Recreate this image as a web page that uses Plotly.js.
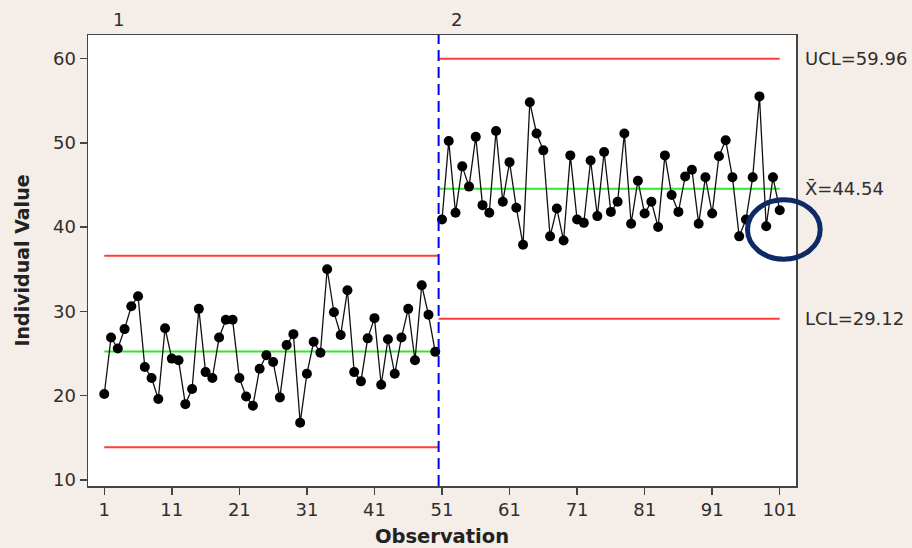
<!DOCTYPE html>
<html>
<head>
<meta charset="utf-8">
<script src="https://cdn.plot.ly/plotly-3.0.1.min.js"></script>
<style>html,body{margin:0;padding:0;background:#F5EDE7;}</style>
</head>
<body>
<div id="chart" style="width:912px;height:548px;"></div>
<script>
// Stage 1: observations 1-50
const stage1Obs = Array.from({length: 50}, (_, i) => i + 1);
const stage1Values = [
  20.2, 26.9, 25.6, 27.9, 30.6, 31.8, 23.4, 22.1, 19.6, 28.0,
  24.4, 24.2, 19.0, 20.8, 30.3, 22.8, 22.1, 26.9, 29.0, 29.0,
  22.1, 19.9, 18.8, 23.2, 24.8, 24.0, 19.8, 26.0, 27.3, 16.8,
  22.6, 26.4, 25.1, 35.0, 29.9, 27.2, 32.5, 22.8, 21.7, 26.8,
  29.2, 21.3, 26.7, 22.6, 26.9, 30.3, 24.2, 33.1, 29.6, 25.2
];
// Stage 2: observations 51-101
const stage2Obs = Array.from({length: 51}, (_, i) => i + 51);
const stage2Values = [
  40.9, 50.2, 41.7, 47.2, 44.8, 50.7, 42.6, 41.7, 51.4, 43.0,
  47.7, 42.3, 37.9, 54.8, 51.1, 49.1, 38.9, 42.2, 38.4, 48.5,
  40.9, 40.5, 47.9, 41.3, 48.9, 41.8, 43.0, 51.1, 40.4, 45.5,
  41.6, 43.0, 40.0, 48.5, 43.8, 41.8, 46.0, 46.8, 40.4, 45.9,
  41.6, 48.4, 50.3, 45.9, 38.9, 40.9, 45.9, 55.5, 40.1, 45.9,
  42.0
];
// Control limits per stage
const stageBoundsX1 = [1, 50.5];
const stageBoundsX2 = [50.5, 101];
const stage1Limits = {ucl: 36.6, mean: 25.25, lcl: 13.9};
const stage2Limits = {ucl: 59.96, mean: 44.54, lcl: 29.12};
const stageLabels = ["1", "2"];
const xTicks = [1, 11, 21, 31, 41, 51, 61, 71, 81, 91, 101];
const yTicks = [10, 20, 30, 40, 50, 60];

const red = '#FF3B3B', green = '#2EEA2E';
function hline(xs, v, color) {
  return {x: xs, y: [v, v], mode: 'lines', line: {color: color, width: 2}, hoverinfo: 'skip', showlegend: false};
}
function series(xs, ys) {
  return {x: xs, y: ys, mode: 'lines+markers', line: {color: '#111', width: 1.3},
          marker: {color: '#000', size: 10}, showlegend: false};
}

const traces = [
  hline(stageBoundsX1, stage1Limits.ucl, red),
  hline(stageBoundsX1, stage1Limits.lcl, red),
  hline(stageBoundsX1, stage1Limits.mean, green),
  hline(stageBoundsX2, stage2Limits.ucl, red),
  hline(stageBoundsX2, stage2Limits.lcl, red),
  hline(stageBoundsX2, stage2Limits.mean, green),
  series(stage1Obs, stage1Values),
  series(stage2Obs, stage2Values)
];

const L = 88, R = 796, T = 35, B = 486;
const px = v => (v - L) / (R - L);
const py = v => (B - v) / (B - T);
const fontFam = '"DejaVu Sans", sans-serif';

const layout = {
  width: 912, height: 548,
  paper_bgcolor: '#F5EDE7', plot_bgcolor: '#FFFFFF',
  margin: {l: L, r: 912 - R, t: T, b: 548 - B},
  font: {family: fontFam, size: 18, color: '#2e2e2e'},
  showlegend: false,
  xaxis: {
    range: [-1.41, 103.41], tickvals: xTicks, ticktext: xTicks.map(String),
    ticks: 'outside', ticklen: 7, tickwidth: 1.5, tickcolor: '#444',
    showline: true, mirror: true, linecolor: '#444', linewidth: 1.5,
    showgrid: false, zeroline: false,
    title: {text: '<b>Observation</b>', font: {size: 19.5, color: '#222'}, standoff: 10}
  },
  yaxis: {
    range: [9.29, 62.78], tickvals: yTicks, ticktext: yTicks.map(String),
    ticks: 'outside', ticklen: 7, tickwidth: 1.5, tickcolor: '#444',
    showline: true, mirror: true, linecolor: '#444', linewidth: 1.5,
    showgrid: false, zeroline: false,
    title: {text: '<b>Individual Value</b>', font: {size: 19, color: '#222'}, standoff: 18}
  },
  shapes: [
    {type: 'line', xref: 'x', yref: 'paper', x0: 50.5, x1: 50.5, y0: 0, y1: 1,
     line: {color: '#0000FF', width: 2, dash: '11px,6px'}},
    {type: 'circle', xref: 'paper', yref: 'paper',
     x0: px(747.5), x1: px(820.2), y0: py(259.2), y1: py(199.8),
     line: {color: '#0E2A66', width: 5}}
  ],
  annotations: [
    {xref: 'x', yref: 'paper', x: 3.15, y: 1, yanchor: 'bottom', yshift: 3, text: stageLabels[0], showarrow: false},
    {xref: 'x', yref: 'paper', x: 53.1, y: 1, yanchor: 'bottom', yshift: 3, text: stageLabels[1], showarrow: false},
    {xref: 'paper', yref: 'y', x: px(803), xanchor: 'left', y: stage2Limits.ucl, text: 'UCL=' + stage2Limits.ucl.toFixed(2), showarrow: false},
    {xref: 'paper', yref: 'y', x: px(803), xanchor: 'left', y: stage2Limits.mean, text: 'X\u0304=' + stage2Limits.mean.toFixed(2), showarrow: false},
    {xref: 'paper', yref: 'y', x: px(803), xanchor: 'left', y: stage2Limits.lcl, text: 'LCL=' + stage2Limits.lcl.toFixed(2), showarrow: false}
  ]
};

Plotly.newPlot('chart', traces, layout, {displayModeBar: false, staticPlot: true});
</script>
</body>
</html>
